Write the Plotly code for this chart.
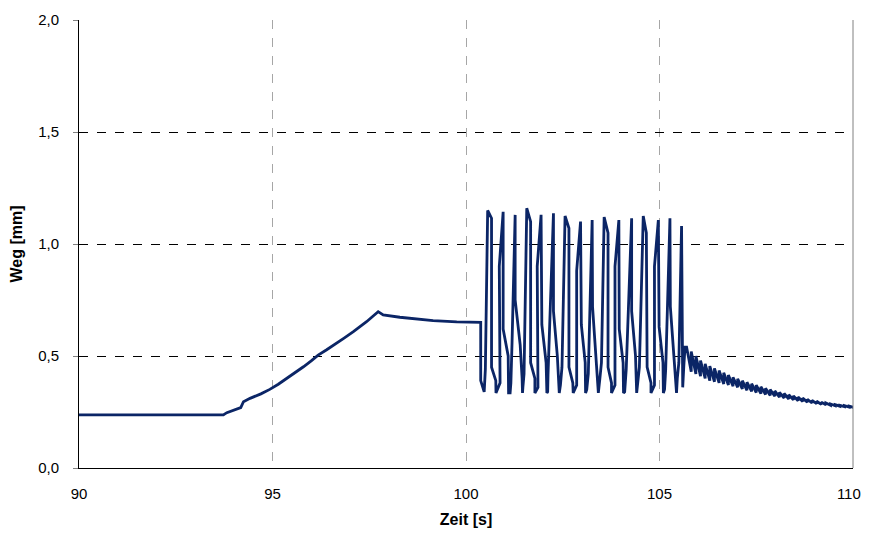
import plotly.graph_objects as go

# ---- data ----
ramp_t = [90.0, 93.73, 93.82, 94.12, 94.18, 94.25, 94.42, 94.70, 94.93, 95.15, 95.37,
          95.60, 95.80, 96.00, 96.18, 96.40, 96.57, 96.85, 97.09, 97.43, 97.73, 97.86,
          98.29, 99.15, 99.76, 100.38, 100.38, 100.47]
ramp_v = [0.237, 0.237, 0.247, 0.266, 0.27, 0.296, 0.311, 0.331, 0.351, 0.374, 0.40,
          0.426, 0.452, 0.478, 0.504, 0.528, 0.549, 0.580, 0.609, 0.653, 0.698, 0.683,
          0.673, 0.658, 0.652, 0.650, 0.39, 0.34]

osc_t = [100.50, 100.56, 100.66, 100.66, 100.77, 100.775,
         100.88, 100.86, 100.96, 100.96, 101.09, 101.10,
         101.14, 101.16, 101.19, 101.27, 101.27, 101.40, 101.45, 101.46,
         101.47, 101.50, 101.57, 101.67, 101.67, 101.78, 101.78,
         101.86, 101.84, 101.94, 101.96, 102.07, 102.09,
         102.11, 102.12, 102.26, 102.26, 102.36, 102.40, 102.41,
         102.44, 102.48, 102.56, 102.66, 102.66, 102.76, 102.77,
         102.86, 102.86, 102.96, 102.98, 103.08, 103.09,
         103.12, 103.16, 103.26, 103.27, 103.37, 103.42,
         103.46, 103.50, 103.57, 103.67, 103.67, 103.76, 103.76,
         103.85, 103.85, 103.95, 103.96, 104.06, 104.07,
         104.10, 104.14, 104.28, 104.28, 104.38, 104.41,
         104.44, 104.48, 104.58, 104.66, 104.68, 104.78, 104.78,
         104.87, 104.87, 104.97, 104.99, 105.09, 105.10,
         105.13, 105.16, 105.27, 105.28, 105.38, 105.44,
         105.46, 105.50, 105.57, 105.60, 105.63, 105.66]
osc_v = [0.44, 1.15, 1.115, 0.45, 0.39, 0.335,
         0.38, 0.90, 1.144, 0.62, 0.50, 0.335,
         0.335, 0.38, 0.56, 1.13, 0.75, 0.55, 0.40, 0.335,
         0.36, 0.42, 1.16, 1.10, 0.47, 0.40, 0.335,
         0.36, 0.90, 1.13, 0.64, 0.47, 0.335,
         0.34, 0.42, 1.137, 0.70, 0.50, 0.40, 0.335,
         0.37, 0.45, 1.125, 1.07, 0.45, 0.38, 0.335,
         0.37, 0.88, 1.10, 0.64, 0.47, 0.335,
         0.35, 0.42, 1.107, 0.72, 0.47, 0.335,
         0.40, 0.47, 1.12, 1.05, 0.45, 0.38, 0.335,
         0.37, 0.90, 1.107, 0.62, 0.47, 0.335,
         0.34, 0.44, 1.115, 0.70, 0.50, 0.335,
         0.38, 0.45, 1.125, 1.05, 0.45, 0.38, 0.335,
         0.37, 0.90, 1.107, 0.63, 0.47, 0.335,
         0.35, 0.44, 1.115, 0.72, 0.50, 0.335,
         0.40, 0.47, 1.08, 0.36, 0.46, 0.54]

tooth_t = [105.70, 105.82, 105.94, 106.06, 106.18, 106.30, 106.42, 106.54, 106.66, 106.78,
           106.90, 107.02, 107.14, 107.26, 107.38, 107.50, 107.62, 107.74, 107.86, 107.98,
           108.10, 108.22, 108.34, 108.46, 108.58, 108.70, 108.82, 108.94, 109.06, 109.18,
           109.30, 109.42, 109.54, 109.66, 109.78, 109.90, 110.0]
tooth_hi = [0.54, 0.52, 0.50, 0.48, 0.465, 0.455, 0.445, 0.435, 0.425, 0.415,
            0.405, 0.398, 0.39, 0.383, 0.376, 0.37, 0.363, 0.356, 0.35, 0.344,
            0.338, 0.333, 0.327, 0.322, 0.317, 0.312, 0.307, 0.302, 0.298, 0.294,
            0.29, 0.286, 0.283, 0.28, 0.278, 0.276, 0.272]
tooth_lo = [0.43, 0.42, 0.41, 0.40, 0.39, 0.385, 0.38, 0.375, 0.37, 0.365,
            0.36, 0.353, 0.347, 0.342, 0.337, 0.332, 0.328, 0.324, 0.32, 0.316,
            0.312, 0.308, 0.304, 0.300, 0.297, 0.294, 0.290, 0.287, 0.284, 0.282,
            0.28, 0.278, 0.276, 0.274, 0.272, 0.271]

x_ticks = [90, 95, 100, 105, 110]
x_ticktext = ["90", "95", "100", "105", "110\u00a0\u00a0"]
y_ticks = [0.0, 0.5, 1.0, 1.5, 2.0]
y_ticktext = ["0,0", "0,5", "1,0", "1,5", "2,0"]

# ---- assemble the single trace ----
decay_t, decay_v = [], []
for k in range(len(tooth_lo)):
    decay_t += [tooth_t[k], tooth_t[k + 1]]
    decay_v += [tooth_hi[k], tooth_lo[k]]
decay_t.append(tooth_t[-1])
decay_v.append(tooth_hi[-1])

t_all = ramp_t + osc_t + decay_t
v_all = ramp_v + osc_v + decay_v

LINE = "#0B2566"
FONT = "Liberation Sans, Arial, sans-serif"

fig = go.Figure()
fig.add_trace(go.Scatter(x=t_all, y=v_all, mode="lines",
                         line=dict(color=LINE, width=2.8), showlegend=False,
                         hoverinfo="skip"))

fig.update_layout(
    width=863, height=520,
    margin=dict(l=71, r=18, t=12, b=60),
    paper_bgcolor="white", plot_bgcolor="white",
    font=dict(family=FONT, size=15, color="black"),
    showlegend=False,
)
fig.update_xaxes(
    range=[90, 110], tickvals=x_ticks, ticktext=x_ticktext,
    showgrid=True, gridcolor="#A6A6A6", griddash="dash", gridwidth=1,
    showline=True, linecolor="black", linewidth=1,
    ticks="", ticklabelstandoff=12, zeroline=False, automargin=False,
    ticklabeloverflow="allow",
    title=dict(text="<b>Zeit [s]</b>", font=dict(size=16), standoff=15),
)
fig.update_yaxes(
    range=[0, 2.0], tickvals=y_ticks, ticktext=y_ticktext,
    showgrid=True, gridcolor="black", griddash="dash", gridwidth=1,
    showline=True, linecolor="black", linewidth=1,
    ticks="outside", ticklen=5, tickcolor="#808080", ticklabelstandoff=11,
    zeroline=False, automargin=False,
    title=dict(text="<b>Weg [mm]</b>", font=dict(size=16), standoff=12),
)
# right border of the plot area
fig.add_shape(type="line", xref="paper", yref="paper", x0=1, x1=1, y0=0, y1=1,
              line=dict(color="#808080", width=1))

fig.write_html("out.html")
